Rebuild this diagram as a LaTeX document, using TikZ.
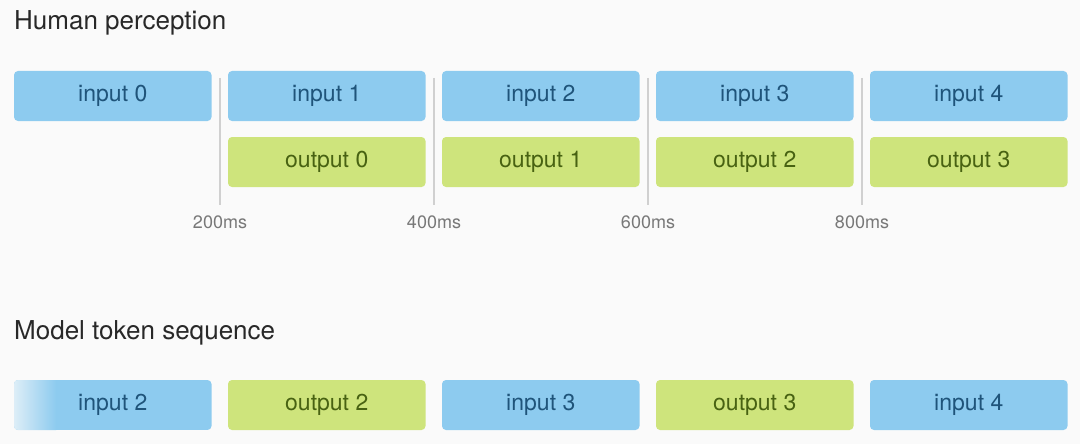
\documentclass[tikz,border=0pt]{standalone}
\usepackage{fontspec}
\setmainfont{TeX Gyre Heros}
\usepackage{xcolor}
\usepackage{tikz}
\usetikzlibrary{positioning,calc}
\definecolor{bgcolor}{RGB}{250,250,250}
\definecolor{inblue}{RGB}{141,203,239}
\definecolor{intext}{RGB}{31,84,122}
\definecolor{outgreen}{RGB}{206,228,124}
\definecolor{outtext}{RGB}{72,98,18}
\definecolor{sepgray}{RGB}{208,208,208}
\definecolor{ticktext}{RGB}{120,120,120}
\definecolor{titletext}{RGB}{40,40,40}
\tikzset{
  inbox/.style={fill=inblue, text=intext, rounded corners=4pt, minimum width=197.5pt, minimum height=50pt, inner sep=0pt, font=\fontsize{23}{26}\selectfont},
  outbox/.style={inbox, fill=outgreen, text=outtext},
  title/.style={anchor=west, inner sep=0pt, text=titletext, font=\fontsize{26}{30}\selectfont},
  tick/.style={inner sep=0pt, text=ticktext, font=\fontsize{18}{21}\selectfont},
  sep/.style={draw=sepgray, line width=1.3pt}
}

\begin{document}
\begin{tikzpicture}[x=1pt, y=-1pt]
    % Background
    \fill [bgcolor] (0,0) rectangle (1080,444);
    \useasboundingbox (0,0) rectangle (1080,444);

    % Titles
    \node [title] (human) at (14,23) {Human perception};
    \node [title] (model) at (14,333) {Model token sequence};

    % Human perception: inputs and outputs
    \node [inbox] (in0) at (112.75,96) {input 0};
    \foreach \i [evaluate=\i as \x using 112.75+214*\i, evaluate=\i as \j using int(\i-1)] in {1,...,4} {
        \node [inbox] (in\i) at (\x,96) {input \i};
        \node [outbox] (out\j) at (\x,162) {output \j};
    }

    % Time marks
    \foreach \k/\ms in {0/200,1/400,2/600,3/800} {
        \coordinate (top\k) at (220+214*\k,78);
        \node [tick] (tick\k) at (220+214*\k,222) {\ms ms};
        \draw [sep] (top\k) -- ([yshift=10pt]tick\k.north);
    }

    % Model token sequence (first box fades in from the left)
    \begin{scope}
        \clip [rounded corners=4pt] (14,380) rectangle (211.5,430);
        \fill [inblue] (14,380) rectangle (211.5,430);
        \shade [left color=bgcolor!75!inblue, right color=inblue] (13,380) rectangle (56,430);
    \end{scope}
    \node [inbox, fill=none] (seq0) at (112.75,405) {input 2};
    \node [outbox] (seq1) at (326.75,405) {output 2};
    \node [inbox] (seq2) at (540.75,405) {input 3};
    \node [outbox] (seq3) at (754.75,405) {output 3};
    \node [inbox] (seq4) at (968.75,405) {input 4};
\end{tikzpicture}
\end{document}
